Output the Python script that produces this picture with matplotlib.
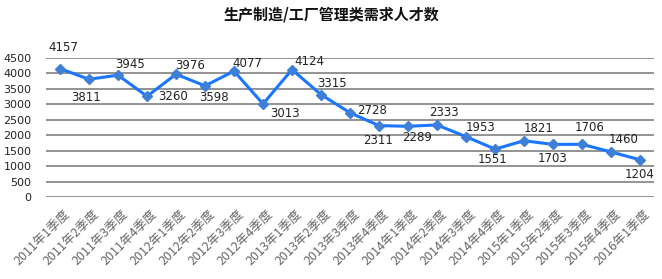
import matplotlib
matplotlib.use("Agg")
import matplotlib.pyplot as plt
import matplotlib.transforms as mtransforms

plt.rcParams['font.family'] = ['Noto Sans CJK SC', 'DejaVu Sans']

# quarters and demand counts
quarters = ['2011年1季度', '2011年2季度', '2011年3季度', '2011年4季度',
            '2012年1季度', '2012年2季度', '2012年3季度', '2012年4季度',
            '2013年1季度', '2013年2季度', '2013年3季度', '2013年4季度',
            '2014年1季度', '2014年2季度', '2014年3季度', '2014年4季度',
            '2015年1季度', '2015年2季度', '2015年3季度', '2015年4季度',
            '2016年1季度']
demand = [4157, 3811, 3945, 3260, 3976, 3598, 4077, 3013, 4124, 3315,
          2728, 2311, 2289, 2333, 1953, 1551, 1821, 1703, 1706, 1460, 1204]

# label offsets in pixels (dx, dy), dy positive = up
offsets = [(3, 21), (-3, -18), (12, 11), (26, 0), (14, 9), (9, -12), (13, 8),
           (22, -10), (17, 8), (11, 11), (22, 2), (-1, -15), (9, -11), (7, 12),
           (15, 9), (-2, -10), (15, 12), (0, -14), (8, 17), (13, 12), (0, -15)]

fig = plt.figure(figsize=(6.62, 2.79), dpi=100)
ax = fig.add_axes([45.5 / 662, 1 - 197 / 279, 609 / 662, 139 / 279])

x = list(range(len(demand)))
ax.plot(x, demand, color='#1A75FF', lw=2.2, marker='D', ms=5.5,
        mfc='#3E7FD8', mec='#3E7FD8', zorder=3)

for i, v in enumerate(demand):
    dx, dy = offsets[i]
    ax.annotate(str(v), (i, v), xytext=(dx, dy), textcoords='offset pixels',
                ha='center', va='center', fontsize=8.5, color='#222222',
                family='DejaVu Sans')

ax.set_xlim(-0.5, len(demand) - 0.5)
ax.set_ylim(0, 4500)
ax.set_yticks(range(0, 4501, 500))
ax.set_yticklabels([str(t) for t in range(0, 4501, 500)], fontsize=8,
                   family='DejaVu Sans', color='#222222')
ax.yaxis.grid(True, color='#8a8a8a', lw=1.3)
ax.set_axisbelow(True)
for s in ax.spines.values():
    s.set_visible(False)
ax.tick_params(axis='y', length=0, pad=10)
ax.tick_params(axis='x', length=0, pad=8)

ax.set_xticks(x)
ax.set_xticklabels(quarters, rotation=45, ha='right', va='top',
                   rotation_mode='anchor', fontsize=9, color='#666666')
shift = mtransforms.ScaledTranslation(4 / 100, 0, fig.dpi_scale_trans)
for lab in ax.get_xticklabels():
    lab.set_transform(lab.get_transform() + shift)

fig.text(0.5, 1 - 15 / 279, '生产制造/工厂管理类需求人才数', ha='center', va='center',
         fontsize=10.8, fontweight='bold', color='#111111')

fig.savefig('out.png', dpi=100)
